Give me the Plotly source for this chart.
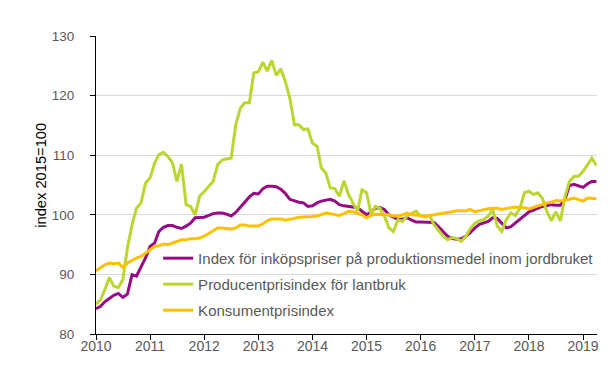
import pandas as pd
import plotly.graph_objects as go

months = pd.date_range("2010-01-01", periods=112, freq="MS")

inkop = [
    84.25, 84.65, 85.4, 86.0, 86.5, 86.8, 86.15, 86.7, 89.95, 89.7,
    91.35, 92.75, 94.7, 95.3, 97.2, 97.9, 98.2, 98.2, 97.9, 97.7,
    98.1, 98.6, 99.5, 99.5, 99.6, 99.9, 100.2, 100.3, 100.3, 100.1,
    99.8, 100.4, 101.3, 102.2, 103.0, 103.6, 103.5, 104.4, 104.8, 104.8,
    104.7, 104.3, 103.6, 102.6, 102.3, 102.1, 102.0, 101.4, 101.5, 102.0,
    102.3, 102.4, 102.6, 102.3, 101.7, 101.5, 101.4, 101.3, 101.2, 100.6,
    100.0, 100.5, 101.1, 101.2, 100.9, 100.0, 99.6, 99.2, 99.3, 99.5,
    99.1, 98.8, 98.8, 98.8, 98.8, 98.7, 98.0, 97.2, 96.4, 96.0,
    95.9, 96.0, 96.4, 97.0, 97.8, 98.4, 98.7, 98.9, 99.5, 99.4,
    98.6, 97.8, 98.0, 98.6, 99.3, 99.8, 100.5, 100.8, 101.1, 101.4,
    101.5, 101.7, 101.6, 101.6, 102.6, 104.9, 105.1, 104.9, 104.6, 105.2,
    105.6, 105.6,
]

producent = [
    85.0, 85.75, 87.4, 89.5, 88.0, 87.8, 89.1, 94.4, 98.3, 101.1,
    102.0, 105.3, 106.2, 108.7, 110.1, 110.5, 109.8, 108.7, 105.6, 108.5,
    101.7, 101.4, 100.0, 103.1, 103.9, 104.7, 105.6, 108.4, 109.2, 109.4,
    109.5, 115.1, 117.9, 118.8, 118.8, 123.8, 124.0, 125.6, 124.1, 125.9,
    123.4, 124.5, 122.4, 119.6, 115.1, 115.1, 114.3, 114.4, 112.0, 111.5,
    107.9, 107.0, 104.5, 104.4, 103.1, 105.7, 103.4, 102.0, 100.6, 104.2,
    103.7, 100.0, 101.4, 101.1, 99.8, 97.8, 97.2, 99.2, 98.9, 99.8,
    100.2, 100.6, 99.8, 99.9, 99.9, 98.3, 97.3, 96.4, 95.8, 96.2,
    96.0, 95.55, 96.4, 97.7, 98.6, 99.0, 99.2, 99.75, 100.9, 98.1,
    97.2, 99.2, 100.3, 99.9, 101.1, 103.7, 103.95, 103.4, 103.7, 102.8,
    100.6, 99.0, 100.5, 99.0, 103.1, 105.6, 106.45, 106.45, 107.3, 108.4,
    109.5, 108.3,
]

kpi = [
    90.6, 91.1, 91.6, 91.9, 91.8, 91.9, 91.2, 91.9, 92.35, 92.75,
    93.0, 93.6, 94.15, 94.7, 94.8, 95.1, 95.0, 95.3, 95.55, 95.8,
    95.8, 96.0, 96.0, 96.1, 96.4, 96.9, 97.3, 97.8, 97.8, 97.7,
    97.6, 97.8, 98.3, 98.3, 98.1, 98.1, 98.1, 98.5, 99.0, 99.3,
    99.3, 99.3, 99.1, 99.2, 99.4, 99.6, 99.6, 99.6, 99.7, 99.8,
    100.1, 100.3, 100.2, 100.0, 99.9, 100.2, 100.6, 100.5, 100.3, 100.0,
    99.5, 99.9, 100.1, 100.1, 100.0, 100.0, 99.8, 99.8, 100.0, 100.3,
    100.0, 100.0, 99.9, 99.6, 99.9, 100.0, 100.1, 100.2, 100.3, 100.5,
    100.7, 100.7, 100.7, 100.9, 100.5, 100.7, 100.9, 101.0, 101.1, 101.1,
    100.9, 101.1, 101.2, 101.3, 101.3, 101.2, 101.0, 101.3, 101.5, 101.7,
    102.0, 102.1, 102.4, 102.3, 102.4, 102.6, 102.8, 102.6, 102.3, 102.8,
    102.8, 102.7,
]

series_names = [
    "Index för inköpspriser på produktionsmedel inom jordbruket",
    "Producentprisindex för lantbruk",
    "Konsumentprisindex",
]
colors = ["#970C84", "#BDD531", "#FFC000"]

year_ticks = pd.date_range("2010-01-01", periods=10, freq="YS")
year_labels = [str(d.year) for d in year_ticks]
y_ticks = [80, 90, 100, 110, 120, 130]
y_title = "index 2015=100"

fig = go.Figure()
for i, (name, vals) in enumerate(zip(series_names, [inkop, producent, kpi])):
    fig.add_trace(go.Scatter(
        x=months, y=vals, mode="lines", name=name,
        legendgroup=f"g{i}",
        line=dict(color=colors[i], width=3),
    ))

font_family = "Liberation Sans, Arial, sans-serif"
fig.update_layout(
    width=614, height=366,
    margin=dict(l=88, r=25, t=28, b=40),
    paper_bgcolor="white", plot_bgcolor="white",
    font=dict(family=font_family, color="#595959", size=13),
    showlegend=True,
    legend=dict(
        x=0.124, y=0.309, xanchor="left", yanchor="top",
        bgcolor="rgba(255,255,255,0)", borderwidth=0,
        font=dict(family=font_family, size=15, color="#595959"),
        tracegroupgap=3.5,
        traceorder="grouped",
    ),
    xaxis=dict(
        type="date",
        range=["2010-01-01", "2019-04-05"],
        tickmode="array", tickvals=year_ticks, ticktext=year_labels,
        showgrid=False, showline=True, linecolor="black", linewidth=1,
        ticks="outside", ticklen=5, tickcolor="black",
        tickfont=dict(size=14, color="#595959"),
        ticklabelstandoff=-6,
        zeroline=False,
    ),
    yaxis=dict(
        range=[80, 130],
        tickmode="array", tickvals=y_ticks,
        showgrid=True, gridcolor="#D9D9D9", gridwidth=1,
        showline=True, linecolor="black", linewidth=1,
        ticks="outside", ticklen=5, tickcolor="black",
        tickfont=dict(size=13.5, color="#595959"),
        ticklabelstandoff=13,
        zeroline=False,
    ),
    annotations=[dict(
        text=y_title, textangle=-90, showarrow=False,
        xref="paper", yref="paper", x=-0.11, y=0.534,
        xanchor="center", yanchor="middle",
        font=dict(family=font_family, size=14.7, color="black"),
    )],
    shapes=[dict(
        type="rect", layer="between",
        xref="paper", yref="paper", x0=0.138, x1=1.0, y0=0.02, y1=0.30,
        fillcolor="white", line=dict(width=0),
    )],
)

fig.write_html("out.html")
